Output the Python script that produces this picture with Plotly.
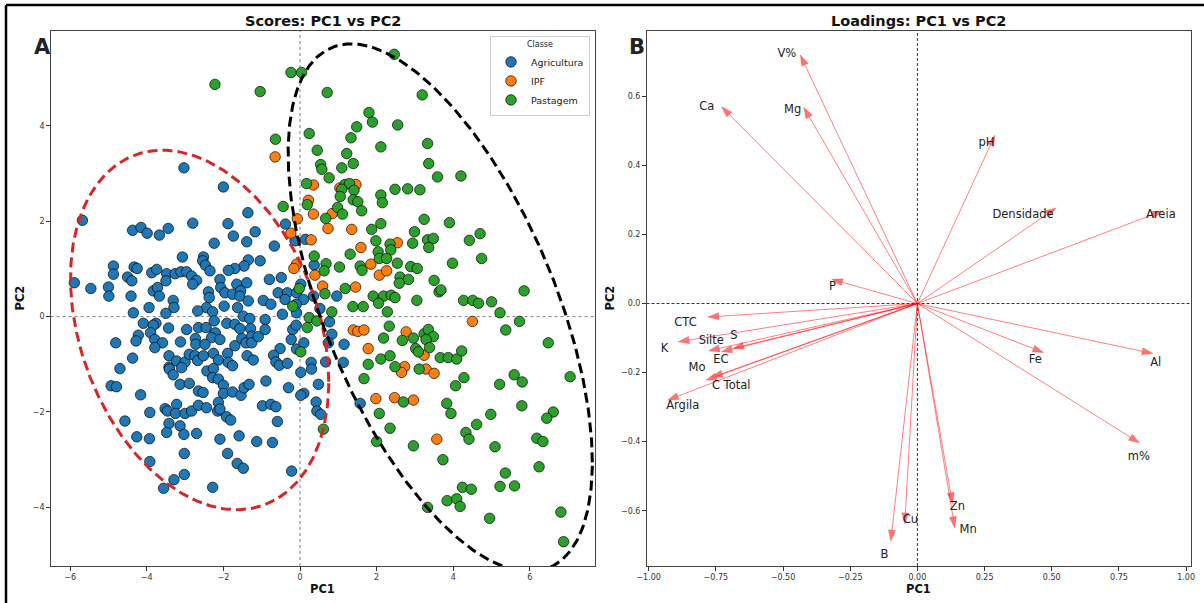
import numpy as np
import plotly.graph_objects as go

W, H = 1204, 603

# ---------------- Scores data ----------------
classes = ["Agricultura", "IPF", "Pastagem"]
class_colors = ["#1f77b4", "#ff7f0e", "#2ca02c"]

agri_pc1 = [-3.03, -2.0, -5.68, -1.36, -4.37, -4.15, -3.99, -3.67, -3.44, -2.80, -1.88, -1.74, -1.39, -1.17, -2.24,
            -0.38, -0.67, -0.13, 0.14, -3.07, -2.52, -2.54, -2.47, -2.35, -1.35, -1.04, -1.46, -1.70, -1.87, -4.87,
            -4.87, -4.33, -4.25, -4.50, -4.39, -3.87, -3.74, -3.48, -3.50, -3.26, -3.11, -2.96, -2.83, -2.70, -2.80,
            -2.09, -2.07, -1.65, -1.39, -0.80, -0.49, -5.89, -5.46, -5.0, -4.99, -4.41, -3.83, -3.72, -3.67, -3.31,
            -2.39, -2.37, -1.96, -1.76, -1.55, -1.57, -1.35, -0.96, -0.57, -0.33, -0.09, 0.02, -0.39, 0.09, 0.35,
            0.37, 0.96,
            -3.29, -2.44, -1.63, -1.98, -0.76, -0.10, -0.46, -0.09, -4.35, -3.94, -3.50, -2.67, -2.28, -1.48,
            -1.31, -0.91, -4.09, -3.76, -3.83, -3.43, -2.96, -2.65, -2.45, -2.24, -1.91, -2.21, -2.31, -2.09, -1.70,
            -1.57, -1.29, -0.91, -0.19, -0.10, -4.22, -4.28, -4.81, -3.90, -3.79, -3.59, -3.79, -3.12, -2.73, -2.72,
            -2.48, -1.70, -1.52, -1.41, -1.26, -1.26, -1.09, -0.23, -0.09, 0.10, -0.52, -4.37, -4.70, -3.42, -3.42,
            -3.22, -3.00, -3.09, -2.89, -2.74, -2.67, -2.52, -2.26, -2.13, -1.89, -1.87, -1.76, -2.43, -2.26, -2.28,
            -2.13, -3.41, -3.31, -3.13, -2.89, -1.38, -1.22, -0.69, -0.63, -0.54, -0.33, 0.29, 0.30, 0.02, 0.48,
            -4.93, -4.79, -4.16, -2.65, -2.53, -2.0, -2.0, -1.76, -1.54, -1.46, -1.33, -0.89, -0.30, 0.10, 0.02,
            0.42, -3.52, -3.46, -3.22, -3.25, -3.00, -2.83, -2.65, -2.44, -2.13, -2.15, -2.09, -1.92, -1.81, -0.98,
            -0.76, -0.63, -0.59, 0.44, 0.54, -3.92, -4.57, -3.42, -3.13, -3.48, -3.03, -2.70, -4.26, -3.93, -2.09,
            -1.59, -1.13, -0.72, -3.02, -1.89, -3.92, -1.64, -1.48, -0.22, -3.02, -3.29, -3.56, -2.28,
            0.77, 0.83, 0.74, 1.15, 0.67, 1.13, 1.57, 0.52]
agri_pc2 = [3.12, 2.72, 2.02, 2.18, 1.81, 1.87, 1.75, 1.71, 1.85, 1.96, 1.95, 1.69, 1.57, 1.78, 1.54,
            1.94, 1.48, 1.59, 1.62, 1.25, 1.25, 1.17, 1.08, 0.96, 1.19, 1.17, 1.06, 1.01, 0.97, 1.06,
            0.89, 1.04, 1.01, 0.83, 0.75, 0.92, 0.99, 0.90, 0.75, 0.90, 0.94, 0.94, 0.85, 0.76, 0.68,
            0.78, 0.61, 0.68, 0.71, 0.78, 0.82, 0.71, 0.59, 0.62, 0.43, 0.43, 0.54, 0.61, 0.43, 0.34,
            0.52, 0.40, 0.50, 0.47, 0.54, 0.43, 0.33, 0.34, 0.50, 0.50, 0.50, 0.68, 0.36, 0.36, 0.43,
            1.08, 0.43,
            0.19, 0.19, 0.19, 0.22, 0.26, 0.26, 0.05, 0.08, 0.08, 0.19, 0.07, 0.12, 0.10, 0.01,
            -0.04, -0.06, -0.14, -0.14, -0.18, -0.24, -0.27, -0.23, -0.23, -0.09, -0.14, -0.34, -0.44, -0.48, -0.16,
            -0.25, -0.25, -0.27, -0.27, -0.18, -0.39, -0.51, -0.55, -0.34, -0.48, -0.55, -0.65, -0.53, -0.46, -0.58,
            -0.58, -0.61, -0.46, -0.55, -0.41, -0.55, -0.42, -0.48, -0.68, -0.55, -0.67, -0.87, -1.09, -0.82, -1.06,
            -0.93, -0.95, -1.07, -0.79, -0.82, -0.92, -0.82, -0.77, -0.91, -0.77, -0.96, -1.03, -1.14, -1.09, -1.28,
            -1.31, -1.10, -1.22, -1.42, -1.40, -0.82, -0.91, -0.81, -0.95, -1.02, -0.98, -0.96, -1.10, -1.17, -1.42,
            -1.45, -1.47, -1.64, -1.56, -1.59, -1.44, -1.61, -1.58, -1.65, -1.49, -1.42, -1.35, -1.49, -1.61, -1.65,
            -1.79, -1.93, -1.98, -1.84, -2.03, -2.03, -1.98, -1.86, -1.91, -1.80, -1.98, -1.94, -2.10, -2.17, -1.87,
            -1.84, -1.89, -2.20, -1.98, -2.05, -2.01, -2.19, -2.24, -2.29, -2.43, -2.47, -2.45, -2.52, -2.56, -2.57,
            -2.50, -2.62, -2.64, -2.87, -2.87, -3.04, -3.08, -3.18, -3.24, -3.31, -3.42, -3.60, -3.58,
            -0.11, -0.37, -0.55, -0.58, -0.95, -0.96, -1.82, 0.17]

ipf_pc1 = [-0.65, 0.35, 0.22, 0.35, -0.07, -0.24, 0.29, -0.09, -0.16, 0.39,
           1.04, 1.46, 0.84, 0.73, 1.35, 2.54, 1.59, 1.85, 2.07, 2.26, 1.45, 0.59,
           4.50, 1.39, 1.51, 1.67, 1.78, 2.77, 3.24, 2.73, 2.65, 3.29, 3.50, 1.98, 2.47, 2.96, 3.57]
ipf_pc2 = [3.35, 2.76, 2.44, 2.15, 2.05, 1.75, 1.61, 1.10, 1.01, 0.87,
           2.70, 2.77, 2.16, 1.85, 1.83, 1.55, 1.45, 1.10, 0.87, 0.96, 0.62, 0.64,
           -0.10, -0.28, -0.31, -0.28, -0.67, -0.32, -0.81, -1.05, -1.17, -1.10, -1.19, -1.72, -1.70, -1.75, -2.57]

past_pc1 = [-2.22, -1.04, -0.235, 0.04, -0.64, 0.24, 0.45, 0.54, 0.57, 0.17, -0.44, 0.19, 0.37, -0.02,
            0.71, 2.46, 3.19, 1.80, 1.89, 2.55, 1.48, 1.33, 3.33, 2.11, 1.22, 1.39, 1.09, 3.36, 3.59, 4.20,
            0.76, 2.48, 2.81, 3.13, 2.11, 2.15, 1.17, 1.29, 1.41, 1.09, 1.05, 1.39, 1.51, 1.61, 0.98, 1.11,
            0.67, 2.11, 1.87, 3.24, 3.90, 2.99, 3.33, 3.48, 3.36, 4.42, 4.70, 1.98, 2.35, 2.37, 2.94, 2.04,
            2.07, 2.26, 1.31, 0.68, 0.63, 1.03, 1.57, 1.62, 2.54, 2.89, 3.06, 3.98, 4.74, 2.61, 2.83, 2.59,
            3.50, 3.63, 3.68, 5.85, 1.18, 0.65, 1.91, 2.18, 2.38, 2.48, 3.05, 4.27, 4.51, 5.0,
            -0.19, 0.24, 0.44, 0.19, 0.02, 0.61,
            4.66, 1.38, 1.65, 2.05, 2.28, 0.83, 5.22, 5.73, 5.37, 2.33, 2.18, 2.67, 2.96, 3.24, 3.35, 3.48,
            3.29, 3.02, 3.09, 3.38, 6.48, 3.66, 3.87, 4.09, 4.22, 1.78, 2.11, 2.35, 2.48, 3.11, 1.67, 4.28,
            4.06, 5.21, 5.59, 5.80, 7.05, 2.70, 3.83, 3.94, 4.98, 5.79, 2.07, 6.61, 6.44, 4.61, 2.35, 4.33,
            4.41, 2.00, 2.96, 5.09, 6.18, 6.34, 3.73, 5.36, 6.24, 4.24, 4.47, 5.22, 5.60, 3.33, 3.84, 4.09,
            4.18, 4.95, 6.81, 6.88]
past_pc2 = [4.87, 4.72, 5.12, 5.12, 3.72, 3.84, 3.49, 3.19, 3.09, 2.79, 2.31, 2.35, 1.27, 0.59,
            4.70, 5.50, 4.65, 4.28, 4.08, 4.02, 3.98, 3.75, 3.63, 3.56, 3.42, 3.21, 3.12, 3.21, 2.93, 2.95,
            2.91, 2.67, 2.68, 2.66, 2.55, 2.39, 2.77, 2.79, 2.65, 2.67, 2.52, 2.45, 2.41, 2.22, 2.29, 2.15,
            2.06, 1.95, 1.83, 2.04, 1.97, 1.78, 1.61, 1.64, 1.45, 1.60, 1.74, 1.59, 1.52, 1.40, 1.54, 1.36,
            1.22, 1.22, 1.31, 1.11, 0.96, 1.04, 1.06, 0.97, 1.12, 1.05, 1.01, 1.12, 1.22, 0.83, 0.78, 0.70,
            0.76, 0.52, 0.56, 0.54, 0.59, 0.48, 0.43, 0.43, 0.45, 0.40, 0.34, 0.34, 0.34, 0.31,
            0.22, -0.02, -0.09, -0.23, -0.74, -2.36,
            0.28, 0.21, 0.21, 0.28, 0.10, 0.10, 0.08, -0.10, -0.28, -0.20, -0.45, -0.50, -0.45, -0.36, -0.27, -0.42,
            -0.48, -0.67, -0.74, -0.65, -0.55, -0.86, -0.86, -0.89, -0.72, -1.0, -0.89, -0.82, -1.05, -1.10, -1.30, -1.28,
            -1.45, -1.42, -1.22, -1.37, -1.26, -1.79, -1.82, -2.03, -2.05, -1.87, -2.03, -2.00, -2.13, -2.26, -2.34, -2.43,
            -2.57, -2.62, -2.71, -2.73, -2.55, -2.62, -3.0, -3.28, -3.15, -3.58, -3.62, -3.56, -3.55, -4.0, -3.86, -3.82,
            -3.98, -4.23, -4.10, -4.72]

# Group ellipses (centre and shape matrix)
ellipse_agri = dict(cx=-2.62, cy=-0.28, sxx=11.36, syy=14.21, sxy=-3.66)
ellipse_past = dict(cx=3.66, cy=0.185, sxx=15.76, syy=30.64, sxy=-12.87)

# ---------------- Loadings data ----------------
var_names = ["V%", "Ca", "Mg", "pH", "Densidade", "Areia", "P", "CTC", "K", "Silte", "S", "EC",
             "Mo", "C Total", "Argila", "Fe", "Al", "m%", "Zn", "Mn", "Cu", "B"]
load_pc1 = [-0.436, -0.729, -0.423, 0.289, 0.517, 0.913, -0.319, -0.78, -0.89, -0.777, -0.687, -0.73,
            -0.787, -0.766, -0.93, 0.47, 0.877, 0.827, 0.131, 0.139, -0.047, -0.099]
load_pc2 = [0.72, 0.57, 0.568, 0.488, 0.277, 0.268, 0.07, -0.039, -0.111, -0.137, -0.130, -0.14,
            -0.222, -0.214, -0.28, -0.142, -0.145, -0.404, -0.58, -0.649, -0.638, -0.688]
label_pc1 = [-0.486, -0.784, -0.464, 0.257, 0.393, 0.906, -0.316, -0.863, -0.941, -0.767, -0.683, -0.731,
             -0.82, -0.693, -0.873, 0.439, 0.887, 0.824, 0.149, 0.189, -0.026, -0.123]
label_pc2 = [0.722, 0.570, 0.560, 0.464, 0.256, 0.256, 0.048, -0.058, -0.133, -0.109, -0.095, -0.164,
             -0.186, -0.240, -0.298, -0.164, -0.174, -0.444, -0.589, -0.657, -0.628, -0.729]

# ---------------- Axes ----------------
x1_ticks = [-6, -4, -2, 0, 2, 4, 6]
y1_ticks = [-4, -2, 0, 2, 4]
x2_ticks = [-1.0, -0.75, -0.5, -0.25, 0.0, 0.25, 0.5, 0.75, 1.0]
y2_ticks = [-0.6, -0.4, -0.2, 0.0, 0.2, 0.4, 0.6]


def fmt(v, nd):
    s = f"{v:.{nd}f}"
    return s.replace("-", "\u2212")


X1_DOM = [50.6 / W, 595 / W]
X2_DOM = [646.5 / W, 1190.7 / W]
Y_DOM = [1 - 566 / H, 1 - 31 / H]
X1_RANGE = [-6.51, 7.70]
Y1_RANGE = [-5.23, 5.99]
X2_RANGE = [-1.008, 1.017]
Y2_RANGE = [-0.76, 0.789]

FONT = "DejaVu Sans"
fig = go.Figure()

# scatter points
for name, col, xs, ys in zip(classes, class_colors,
                             [agri_pc1, ipf_pc1, past_pc1], [agri_pc2, ipf_pc2, past_pc2]):
    fig.add_trace(go.Scatter(x=xs, y=ys, mode="markers", name=name, xaxis="x", yaxis="y",
                             marker=dict(color=col, size=10.5,
                                         line=dict(color="rgba(0,0,0,0.85)", width=0.8))))


def ellipse_path(e, n=400):
    t = np.linspace(0, 2 * np.pi, n)
    L = np.linalg.cholesky(np.array([[e["sxx"], e["sxy"]], [e["sxy"], e["syy"]]]))
    pts = L @ np.vstack([np.cos(t), np.sin(t)])
    return e["cx"] + pts[0], e["cy"] + pts[1]


for e, col in [(ellipse_agri, "#d62728"), (ellipse_past, "black")]:
    ex, ey = ellipse_path(e)
    fig.add_trace(go.Scatter(x=ex, y=ey, mode="lines", showlegend=False, hoverinfo="skip",
                             xaxis="x", yaxis="y",
                             line=dict(color=col, width=3, dash="10px,5px")))

# loadings arrows
kx = (X2_DOM[1] - X2_DOM[0]) * W / (X2_RANGE[1] - X2_RANGE[0])
ky = (Y_DOM[1] - Y_DOM[0]) * H / (Y2_RANGE[1] - Y2_RANGE[0])
HEAD_L, HEAD_W = 11.0, 3.6
line_x, line_y, head_x, head_y = [], [], [], []
for tx, ty in zip(load_pc1, load_pc2):
    px, py = tx * kx, ty * ky
    n = np.hypot(px, py)
    ux, uy = px / n, py / n
    bx, by = px - HEAD_L * ux, py - HEAD_L * uy
    line_x += [0, bx / kx, None]
    line_y += [0, by / ky, None]
    c1 = ((bx - HEAD_W * uy) / kx, (by + HEAD_W * ux) / ky)
    c2 = ((bx + HEAD_W * uy) / kx, (by - HEAD_W * ux) / ky)
    head_x += [tx, c1[0], c2[0], tx, None]
    head_y += [ty, c1[1], c2[1], ty, None]

fig.add_trace(go.Scatter(x=line_x, y=line_y, mode="lines", showlegend=False, hoverinfo="skip",
                         xaxis="x2", yaxis="y2", line=dict(color="rgba(255,0,0,0.5)", width=1)))
fig.add_trace(go.Scatter(x=head_x, y=head_y, mode="lines", fill="toself", showlegend=False,
                         hoverinfo="skip", xaxis="x2", yaxis="y2",
                         fillcolor="rgba(255,0,0,0.55)", line=dict(color="rgba(255,0,0,0.4)", width=0.5)))
fig.add_trace(go.Scatter(x=label_pc1, y=label_pc2, mode="text", text=var_names, showlegend=False,
                         hoverinfo="skip", xaxis="x2", yaxis="y2", cliponaxis=False,
                         textfont=dict(family=FONT, size=11.5, color="#222")))

axis_common = dict(showgrid=False, zeroline=False, showline=True, mirror=True, linecolor="#444",
                   linewidth=1, ticks="outside", ticklen=3.5, tickwidth=0.8, tickcolor="#333",
                   automargin=False,
                   tickfont=dict(family=FONT, size=8, color="#333"))

fig.update_layout(
    width=W, height=H, margin=dict(l=0, r=0, t=0, b=0, autoexpand=False),
    paper_bgcolor="white", plot_bgcolor="white",
    xaxis=dict(domain=X1_DOM, range=X1_RANGE, anchor="y", tickvals=x1_ticks,
               ticktext=[fmt(v, 0) for v in x1_ticks], **axis_common),
    yaxis=dict(domain=Y_DOM, range=Y1_RANGE, anchor="x", tickvals=y1_ticks,
               ticktext=[fmt(v, 0) for v in y1_ticks], **axis_common),
    xaxis2=dict(domain=X2_DOM, range=X2_RANGE, anchor="y2", tickvals=x2_ticks,
                ticktext=[fmt(v, 2) for v in x2_ticks], **axis_common),
    yaxis2=dict(domain=Y_DOM, range=Y2_RANGE, anchor="x2", tickvals=y2_ticks,
                ticktext=[fmt(v, 1) for v in y2_ticks], **axis_common),
    legend=dict(x=490 / W, y=1 - 36 / H, xanchor="left", yanchor="top",
                bgcolor="rgba(255,255,255,0.85)", bordercolor="#d0d0d0", borderwidth=1,
                font=dict(family=FONT, size=9.5, color="#222"),
                title=dict(text="Classe", side="top center", font=dict(family=FONT, size=8, color="#222")),
                tracegroupgap=0),
    font=dict(family=FONT),
    showlegend=True,
)

shapes = [
    dict(type="line", xref="x", yref="y domain", x0=0, x1=0, y0=0, y1=1, layer="below",
         line=dict(color="gray", width=1, dash="dot")),
    dict(type="line", xref="x domain", yref="y", x0=0, x1=1, y0=0, y1=0, layer="below",
         line=dict(color="gray", width=1, dash="dot")),
    dict(type="line", xref="x2", yref="y2 domain", x0=0, x1=0, y0=0, y1=1, layer="below",
         line=dict(color="black", width=0.8, dash="3px,2px")),
    dict(type="line", xref="x2 domain", yref="y2", x0=0, x1=1, y0=0, y1=0, layer="below",
         line=dict(color="black", width=0.8, dash="3px,2px")),
    # outer frame (top and left)
    dict(type="line", xref="paper", yref="paper", x0=6 / W, x1=1, y0=1 - 5 / H, y1=1 - 5 / H,
         line=dict(color="black", width=2.5)),
    dict(type="line", xref="paper", yref="paper", x0=6 / W, x1=6 / W, y0=0, y1=1 - 5 / H,
         line=dict(color="black", width=2.5)),
]
fig.update_layout(shapes=shapes)

ann = []
cx1 = (X1_DOM[0] + X1_DOM[1]) / 2
cx2 = (X2_DOM[0] + X2_DOM[1]) / 2
for cx, title in [(cx1, "Scores: PC1 vs PC2"), (cx2, "Loadings: PC1 vs PC2")]:
    ann.append(dict(text=f"<b>{title}</b>", x=cx, y=1 - 21 / H, xref="paper", yref="paper",
                    showarrow=False, xanchor="center", yanchor="middle",
                    font=dict(family=FONT, size=14.5, color="#111")))
    ann.append(dict(text="<b>PC1</b>", x=cx, y=1 - 589 / H, xref="paper", yref="paper",
                    showarrow=False, xanchor="center", yanchor="middle",
                    font=dict(family=FONT, size=11.5, color="#111")))
for xp in [20 / W, 610 / W]:
    ann.append(dict(text="<b>PC2</b>", x=xp, y=(Y_DOM[0] + Y_DOM[1]) / 2, xref="paper", yref="paper",
                    showarrow=False, xanchor="center", yanchor="middle", textangle=-90,
                    font=dict(family=FONT, size=11.5, color="#111")))
for xp, letter in [(42 / W, "A"), (637 / W, "B")]:
    ann.append(dict(text=f"<b>{letter}</b>", x=xp, y=1 - 47 / H, xref="paper", yref="paper",
                    showarrow=False, xanchor="center", yanchor="middle",
                    font=dict(family=FONT, size=21, color="#222")))
fig.update_layout(annotations=ann)

fig.write_html("out.html")
